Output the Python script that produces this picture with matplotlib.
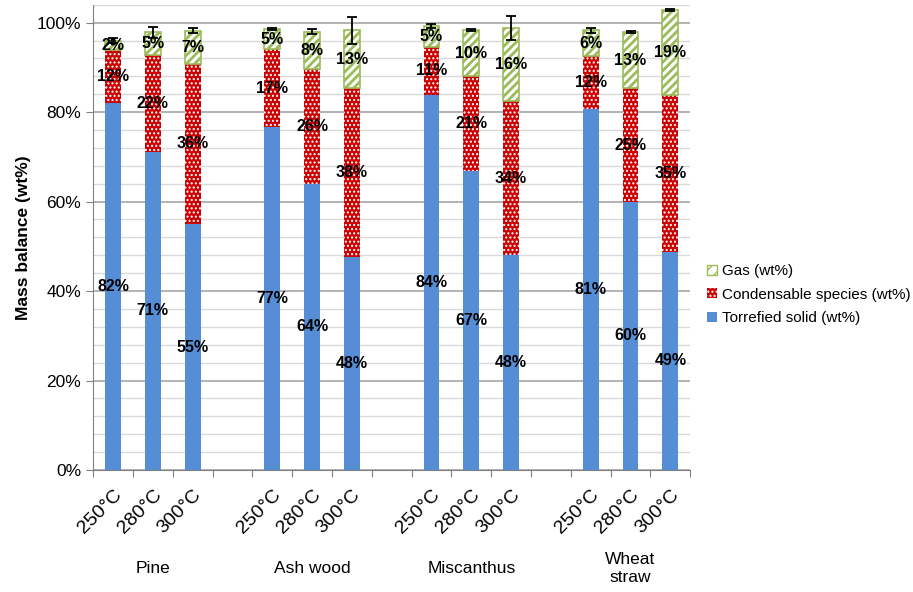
"""Torrefaction mass balance, stacked bars per biomass and temperature."""

import matplotlib

matplotlib.use("Agg")
import matplotlib.pyplot as plt
import numpy as np
from matplotlib.patches import Patch
from matplotlib.transforms import blended_transform_factory

plt.rcParams["font.family"] = ["Liberation Sans", "DejaVu Sans"]

biomass = ["Pine", "Ash wood", "Miscanthus", "Wheat\nstraw"]
temps = ["250°C", "280°C", "300°C"]

solid = [82.1, 71.1, 55.0, 76.7, 64.0, 47.7, 83.9, 66.9, 48.1, 80.8, 60.0, 48.8]
condensable = [11.7, 21.7, 35.8, 17.3, 25.7, 37.6, 10.6, 21.1, 34.3, 11.7, 25.3, 35.1]
gas = [2.2, 5.0, 7.4, 4.6, 8.3, 13.0, 4.8, 10.4, 16.4, 5.8, 12.6, 18.9]
error = [0.6, 1.2, 0.6, 0.3, 0.5, 3.0, 0.5, 0.2, 2.6, 0.6, 0.3, 0.3]

blue = "#558ED5"
red = "#CC0000"
green = "#9BBB59"

x = np.array([g * 4 + t for g in range(len(biomass)) for t in range(len(temps))])
solid = np.array(solid)
condensable = np.array(condensable)
gas = np.array(gas)
top = solid + condensable + gas

fig = plt.figure(figsize=(9.13, 5.92), dpi=100)
ax = fig.add_axes([0.102, 0.206, 0.654, 0.786])

w = 0.4
ax.bar(x, solid, w, color=blue, linewidth=0, zorder=3)
with plt.rc_context({"hatch.linewidth": 1.0}):
    ax.bar(x, condensable, w, bottom=solid, color=red, edgecolor="white",
           hatch="....", linewidth=0, zorder=3)
    cond_handle = Patch(facecolor=red, edgecolor="white", hatch="....", linewidth=0)
with plt.rc_context({"hatch.linewidth": 2.0}):
    ax.bar(x, gas, w, bottom=solid + condensable, color="white", edgecolor=green,
           hatch="////", linewidth=1.2, zorder=3)
    gas_handle = Patch(facecolor="white", edgecolor=green, hatch="///", linewidth=1)
ax.errorbar(x, top, yerr=error, fmt="none", ecolor="black", elinewidth=1.3,
            capsize=3.5, capthick=1.3, zorder=5)

for xi, s, c, g in zip(x, solid, condensable, gas):
    for bottom, val in ((0, s), (s, c), (s + c, g)):
        ax.text(xi, bottom + val / 2, f"{val:.0f}%", ha="center", va="center",
                fontsize=11.5, fontweight="bold", zorder=6)

ax.set_xlim(-0.5, 14.5)
ax.set_ylim(0, 104)
ax.set_yticks(np.arange(0, 101, 20))
ax.set_yticklabels([f"{v}%" for v in range(0, 101, 20)], fontsize=12.5)
ax.set_yticks(np.arange(0, 105, 4), minor=True)
ax.tick_params(axis="y", which="major", length=5, color="#808080")
ax.tick_params(axis="y", which="minor", length=0)
ax.grid(axis="y", which="major", color="#a6a6a6", linewidth=1.2, zorder=0)
ax.grid(axis="y", which="minor", color="#d9d9d9", linewidth=1.0, zorder=0)

ax.set_xticks(np.arange(-0.5, 15, 1))
ax.set_xticklabels([])
ax.tick_params(axis="x", which="major", length=5, color="#808080")
ax.set_xticks(x, minor=True)
ax.set_xticklabels(temps * len(biomass), minor=True, rotation=45, ha="right",
                   va="top", rotation_mode="anchor", fontsize=14)
ax.tick_params(axis="x", which="minor", length=0, pad=12)

trans = blended_transform_factory(ax.transData, ax.transAxes)
for g, name in enumerate(biomass):
    ax.text(g * 4 + 1, -0.211, name, transform=trans, ha="center", va="center",
            fontsize=12.5, linespacing=1.25)

for side in ("top", "right"):
    ax.spines[side].set_visible(False)
for side in ("left", "bottom"):
    ax.spines[side].set_color("#808080")

ax.set_ylabel("Mass balance (wt%)", fontsize=12.5, fontweight="bold", labelpad=4)

handles = [gas_handle, cond_handle, Patch(facecolor=blue, linewidth=0)]
labels = ["Gas (wt%)", "Condensable species (wt%)", "Torrefied solid (wt%)"]
fig.legend(handles, labels, loc="center left", bbox_to_anchor=(0.759, 0.5025),
           frameon=False, fontsize=11, handlelength=0.65, handleheight=0.65,
           handletextpad=0.35, labelspacing=0.62)

fig.savefig("out.png", dpi=100)
